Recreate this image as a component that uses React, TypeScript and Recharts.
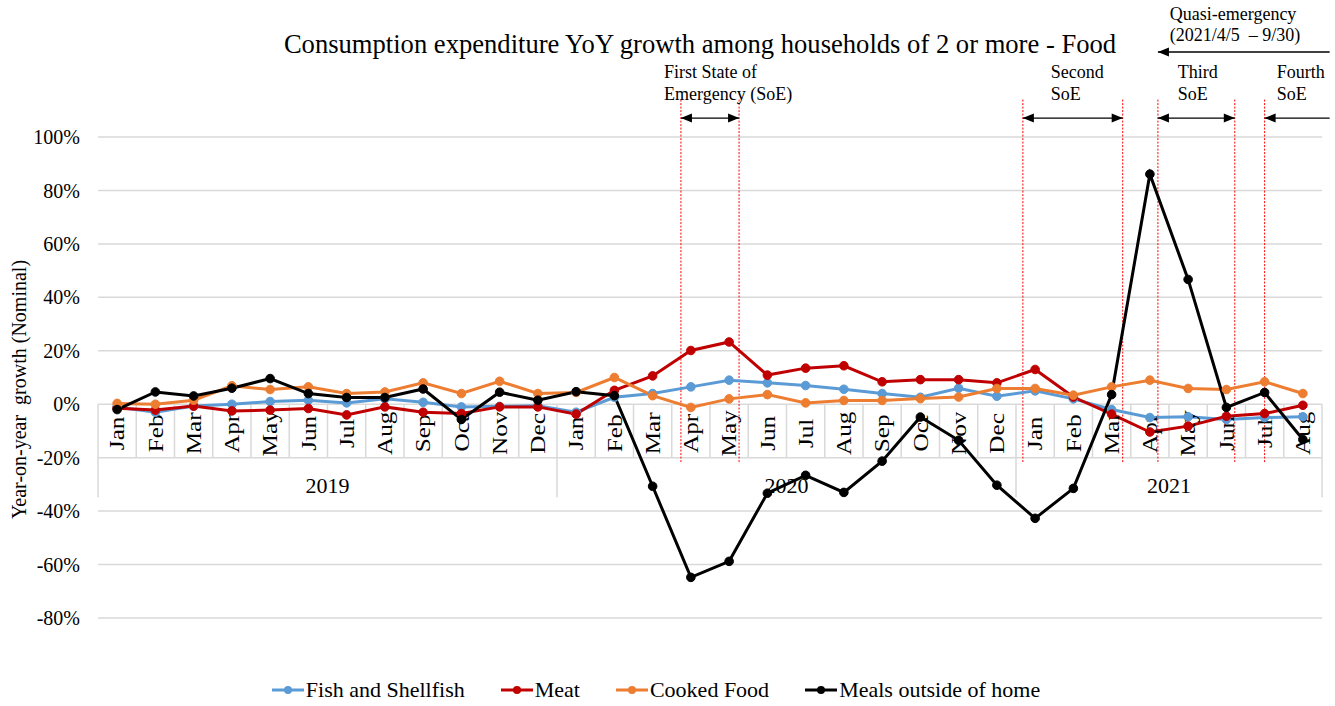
import { CartesianGrid, Line, LineChart, ReferenceDot, ReferenceLine, XAxis, YAxis } from "recharts";

const months = [
  "Jan", "Feb", "Mar", "Apr", "May", "Jun", "Jul", "Aug", "Sep", "Oct", "Nov", "Dec",
  "Jan", "Feb", "Mar", "Apr", "May", "Jun", "Jul", "Aug", "Sep", "Oct", "Nov", "Dec",
  "Jan", "Feb", "Mar", "Apr", "May", "Jun", "Jul", "Aug"
];
const yearLabels = ["2019", "2020", "2021"];
const yearStart = [0, 12, 24];
const yearEnd = [11, 23, 31];

const fish = [
  -1, -3, -0.7, 0, 1, 1.5, 0.5, 2, 0.7, -1, -0.8, -0.6,
  -3, 2.6, 4, 6.5, 9, 8, 7, 5.6, 4, 2.6, 6, 3,
  5, 2, -2, -5, -4.7, -5.7, -5, -4.7
];
const meat = [
  -1.5, -2.2, -0.7, -2.5, -2.2, -1.6, -4, -1, -3, -3.5, -1, -1,
  -3.7, 5.2, 10.6, 20.1, 23.3, 10.9, 13.5, 14.4, 8.4, 9.2, 9.2, 8,
  13, 2.7, -3.7, -10.4, -8.2, -4.5, -3.5, -0.4
];
const cooked = [
  0.3, 0, 1.5, 6.9, 5.5, 6.5, 4, 4.6, 8, 4, 8.6, 4,
  4.4, 10, 3.2, -1.2, 2, 3.6, 0.5, 1.4, 1.4, 2.1, 2.7, 5.9,
  5.9, 3.4, 6.5, 9, 5.9, 5.5, 8.4, 4
];
const mealsOut = [
  -2, 4.6, 3.1, 6, 9.6, 4, 2.5, 2.5, 5.7, -5.7, 4.5, 1.5,
  4.7, 3.2, -30.7, -64.8, -58.8, -33.3, -26.6, -33, -21.3, -4.8, -13.5, -30.3,
  -42.7, -31.5, 3.6, 86.1, 46.7, -1.2, 4.4, -13.2
];

const yTicks = [-80, -60, -40, -20, 0, 20, 40, 60, 80, 100];

// state-of-emergency periods, in month-index units
const soeText = [["First State of", "Emergency (SoE)"], ["Second", "SoE"], ["Third", "SoE"], ["Fourth", "SoE"]];
const soeTextX = [14.3, 24.41, 27.73, 30.32];
const soeStart = [14.74, 23.68, 27.21, 30.0];
const soeEnd = [16.26, 26.29, 29.22, 31.7];
const soeBothHeads = [true, true, true, false];
const quasiText = ["Quasi-emergency", "(2021/4/5 \u00a0\u2013 9/30)"];
const quasiStart = 27.21;
const quasiEnd = 31.7;
const quasiTextX = 27.52;

const series = [
  { key: "fish", name: "Fish and Shellfish", color: "#5B9BD5" },
  { key: "meat", name: "Meat", color: "#C00000" },
  { key: "cooked", name: "Cooked Food", color: "#ED7D31" },
  { key: "mealsOut", name: "Meals outside of home", color: "#000000" }
];

const data = months.map((m, i) => ({
  i,
  month: m,
  fish: fish[i],
  meat: meat[i],
  cooked: cooked[i],
  mealsOut: mealsOut[i]
}));

const FONT = '"Liberation Serif", "Times New Roman", serif';
const GRID = "#d9d9d9";

function ArrowLine(props: any) {
  const { x1, y1, x2, y2, both } = props;
  const len = 11;
  const half = 4.5;
  return (
    <g>
      <line x1={x1} y1={y1} x2={x2} y2={y2} stroke="#000" strokeWidth={1.3} />
      <path d={`M${x1},${y1} l${len},${-half} v${half * 2} z`} fill="#000" />
      {both ? <path d={`M${x2},${y2} l${-len},${-half} v${half * 2} z`} fill="#000" /> : null}
    </g>
  );
}

export default function App() {
  return (
    <div style={{ position: "absolute", left: 0, top: 0, width: 1335, height: 706, background: "#fff", fontFamily: FONT }}>
      <div
        style={{
          position: "absolute",
          left: 0,
          width: 1400,
          top: 29,
          textAlign: "center",
          fontSize: 26.6,
          color: "#000",
          whiteSpace: "nowrap"
        }}
      >
        Consumption expenditure YoY growth among households of 2 or more - Food
      </div>
      <LineChart
        width={1335}
        height={706}
        data={data}
        margin={{ top: 137, right: 13, bottom: 88, left: 8 }}
        style={{ position: "absolute", left: 0, top: 0, fontFamily: FONT }}
      >
        <CartesianGrid horizontal vertical={false} stroke={GRID} strokeWidth={1.5} />
        <XAxis dataKey="i" type="number" domain={[-0.5, 31.5]} hide />
        <YAxis
          type="number"
          domain={[-80, 100]}
          ticks={yTicks}
          width={90}
          axisLine={false}
          tickLine={false}
          tickSize={0}
          tickMargin={18}
          tickFormatter={(v) => `${v}%`}
          tick={{ fill: "#000", fontSize: 20, fontFamily: FONT }}
          label={(p: any) => {
            const vb = p.viewBox;
            const cx = 19;
            const cy = vb.y + vb.height / 2 + 12;
            return (
              <text x={cx} y={cy} transform={`rotate(-90, ${cx}, ${cy})`} textAnchor="middle" dominantBaseline="central" fontSize={20} fill="#000" fontFamily={FONT} style={{ whiteSpace: "pre" }}>
                {"Year-on-year  growth (Nominal)"}
              </text>
            );
          }}
        />

        {/* category table: month dividers */}
        {months.slice(1).map((_, k) => {
          const x = k + 0.5;
          const isYear = yearStart.includes(k + 1);
          return (
            <ReferenceLine
              key={`div${k}`}
              segment={[{ x, y: 0 }, { x, y: isYear ? -34.8 : -20 }]}
              stroke={GRID}
              strokeWidth={1.5}
            />
          );
        })}
        <ReferenceLine segment={[{ x: -0.5, y: 0 }, { x: -0.5, y: -34.8 }]} stroke={GRID} strokeWidth={1.5} ifOverflow="visible" />
        <ReferenceLine segment={[{ x: 31.5, y: 0 }, { x: 31.5, y: -34.8 }]} stroke={GRID} strokeWidth={1.5} ifOverflow="visible" />

        {months.map((m, i) => (
          <ReferenceDot
            key={`m${i}`}
            x={i}
            y={-10.9}
            r={0}
            shape={(p: any) => (
              <text
                transform={`translate(${p.cx}, ${p.cy}) rotate(-90) scale(1.2, 1)`}
                textAnchor="middle"
                dominantBaseline="central"
                fontSize={21}
                fill="#000"
                fontFamily={FONT}
              >
                {m}
              </text>
            )}
          />
        ))}
        {yearLabels.map((y, k) => (
          <ReferenceDot
            key={`y${k}`}
            x={(yearStart[k] + yearEnd[k]) / 2}
            y={-30.3}
            r={0}
            shape={(p: any) => (
              <text x={p.cx} y={p.cy} textAnchor="middle" dominantBaseline="central" fontSize={22} fill="#000" fontFamily={FONT}>
                {y}
              </text>
            )}
          />
        ))}

        {/* emergency periods */}
        {soeStart.flatMap((s, k) => {
          const xs = soeBothHeads[k] ? [s, soeEnd[k]] : [s];
          return xs.map((x, j) => (
            <ReferenceLine
              key={`soe${k}-${j}`}
              segment={[{ x, y: 114 }, { x, y: -21.7 }]}
              stroke="#FF0000"
              strokeWidth={1}
              strokeDasharray="2 1.5"
              ifOverflow="visible"
            />
          ));
        })}
        {soeStart.map((s, k) => (
          <ReferenceLine
            key={`arrow${k}`}
            segment={[{ x: s, y: 107.1 }, { x: soeEnd[k], y: 107.1 }]}
            ifOverflow="visible"
            shape={(p: any) => <ArrowLine x1={p.x1} y1={p.y1} x2={p.x2} y2={p.y2} both={soeBothHeads[k]} />}
          />
        ))}
        <ReferenceLine
          segment={[{ x: quasiStart, y: 131.8 }, { x: quasiEnd, y: 131.8 }]}
          ifOverflow="visible"
          shape={(p: any) => <ArrowLine x1={p.x1} y1={p.y1} x2={p.x2} y2={p.y2} both={false} />}
        />
        {soeText.map((lines, k) => (
          <ReferenceDot
            key={`st${k}`}
            x={soeTextX[k]}
            y={124.3}
            r={0}
            ifOverflow="visible"
            shape={(p: any) => (
              <text x={p.cx} y={p.cy} fontSize={18} fill="#000" fontFamily={FONT} dominantBaseline="central">
                {lines.map((t, j) => (
                  <tspan key={j} x={p.cx} dy={j === 0 ? 0 : 22}>
                    {t}
                  </tspan>
                ))}
              </text>
            )}
          />
        ))}
        <ReferenceDot
          x={quasiTextX}
          y={146}
          r={0}
          ifOverflow="visible"
          shape={(p: any) => (
            <text x={p.cx} y={p.cy} fontSize={18} fill="#000" fontFamily={FONT} dominantBaseline="central">
              {quasiText.map((t, j) => (
                <tspan key={j} x={p.cx} dy={j === 0 ? 0 : 21}>
                  {t}
                </tspan>
              ))}
            </text>
          )}
        />

        {series.map((s) => (
          <Line
            key={s.key}
            dataKey={s.key}
            name={s.name}
            stroke={s.color}
            strokeWidth={3}
            dot={{ r: 4.3, fill: s.color, stroke: s.color, strokeWidth: 1 }}
            isAnimationActive={false}
          />
        ))}
      </LineChart>

      <div
        style={{
          position: "absolute",
          left: 0,
          width: 1335,
          top: 677,
          display: "flex",
          justifyContent: "center",
          gap: 35,
          fontSize: 22,
          color: "#000",
          marginLeft: -12
        }}
      >
        {series.map((s) => (
          <div key={s.key} style={{ display: "flex", alignItems: "center" }}>
            <svg width={34} height={12} style={{ marginRight: 1 }}>
              <line x1={1} y1={6} x2={33} y2={6} stroke={s.color} strokeWidth={3} />
              <circle cx={17} cy={6} r={4} fill={s.color} />
            </svg>
            <span>{s.name}</span>
          </div>
        ))}
      </div>
    </div>
  );
}
